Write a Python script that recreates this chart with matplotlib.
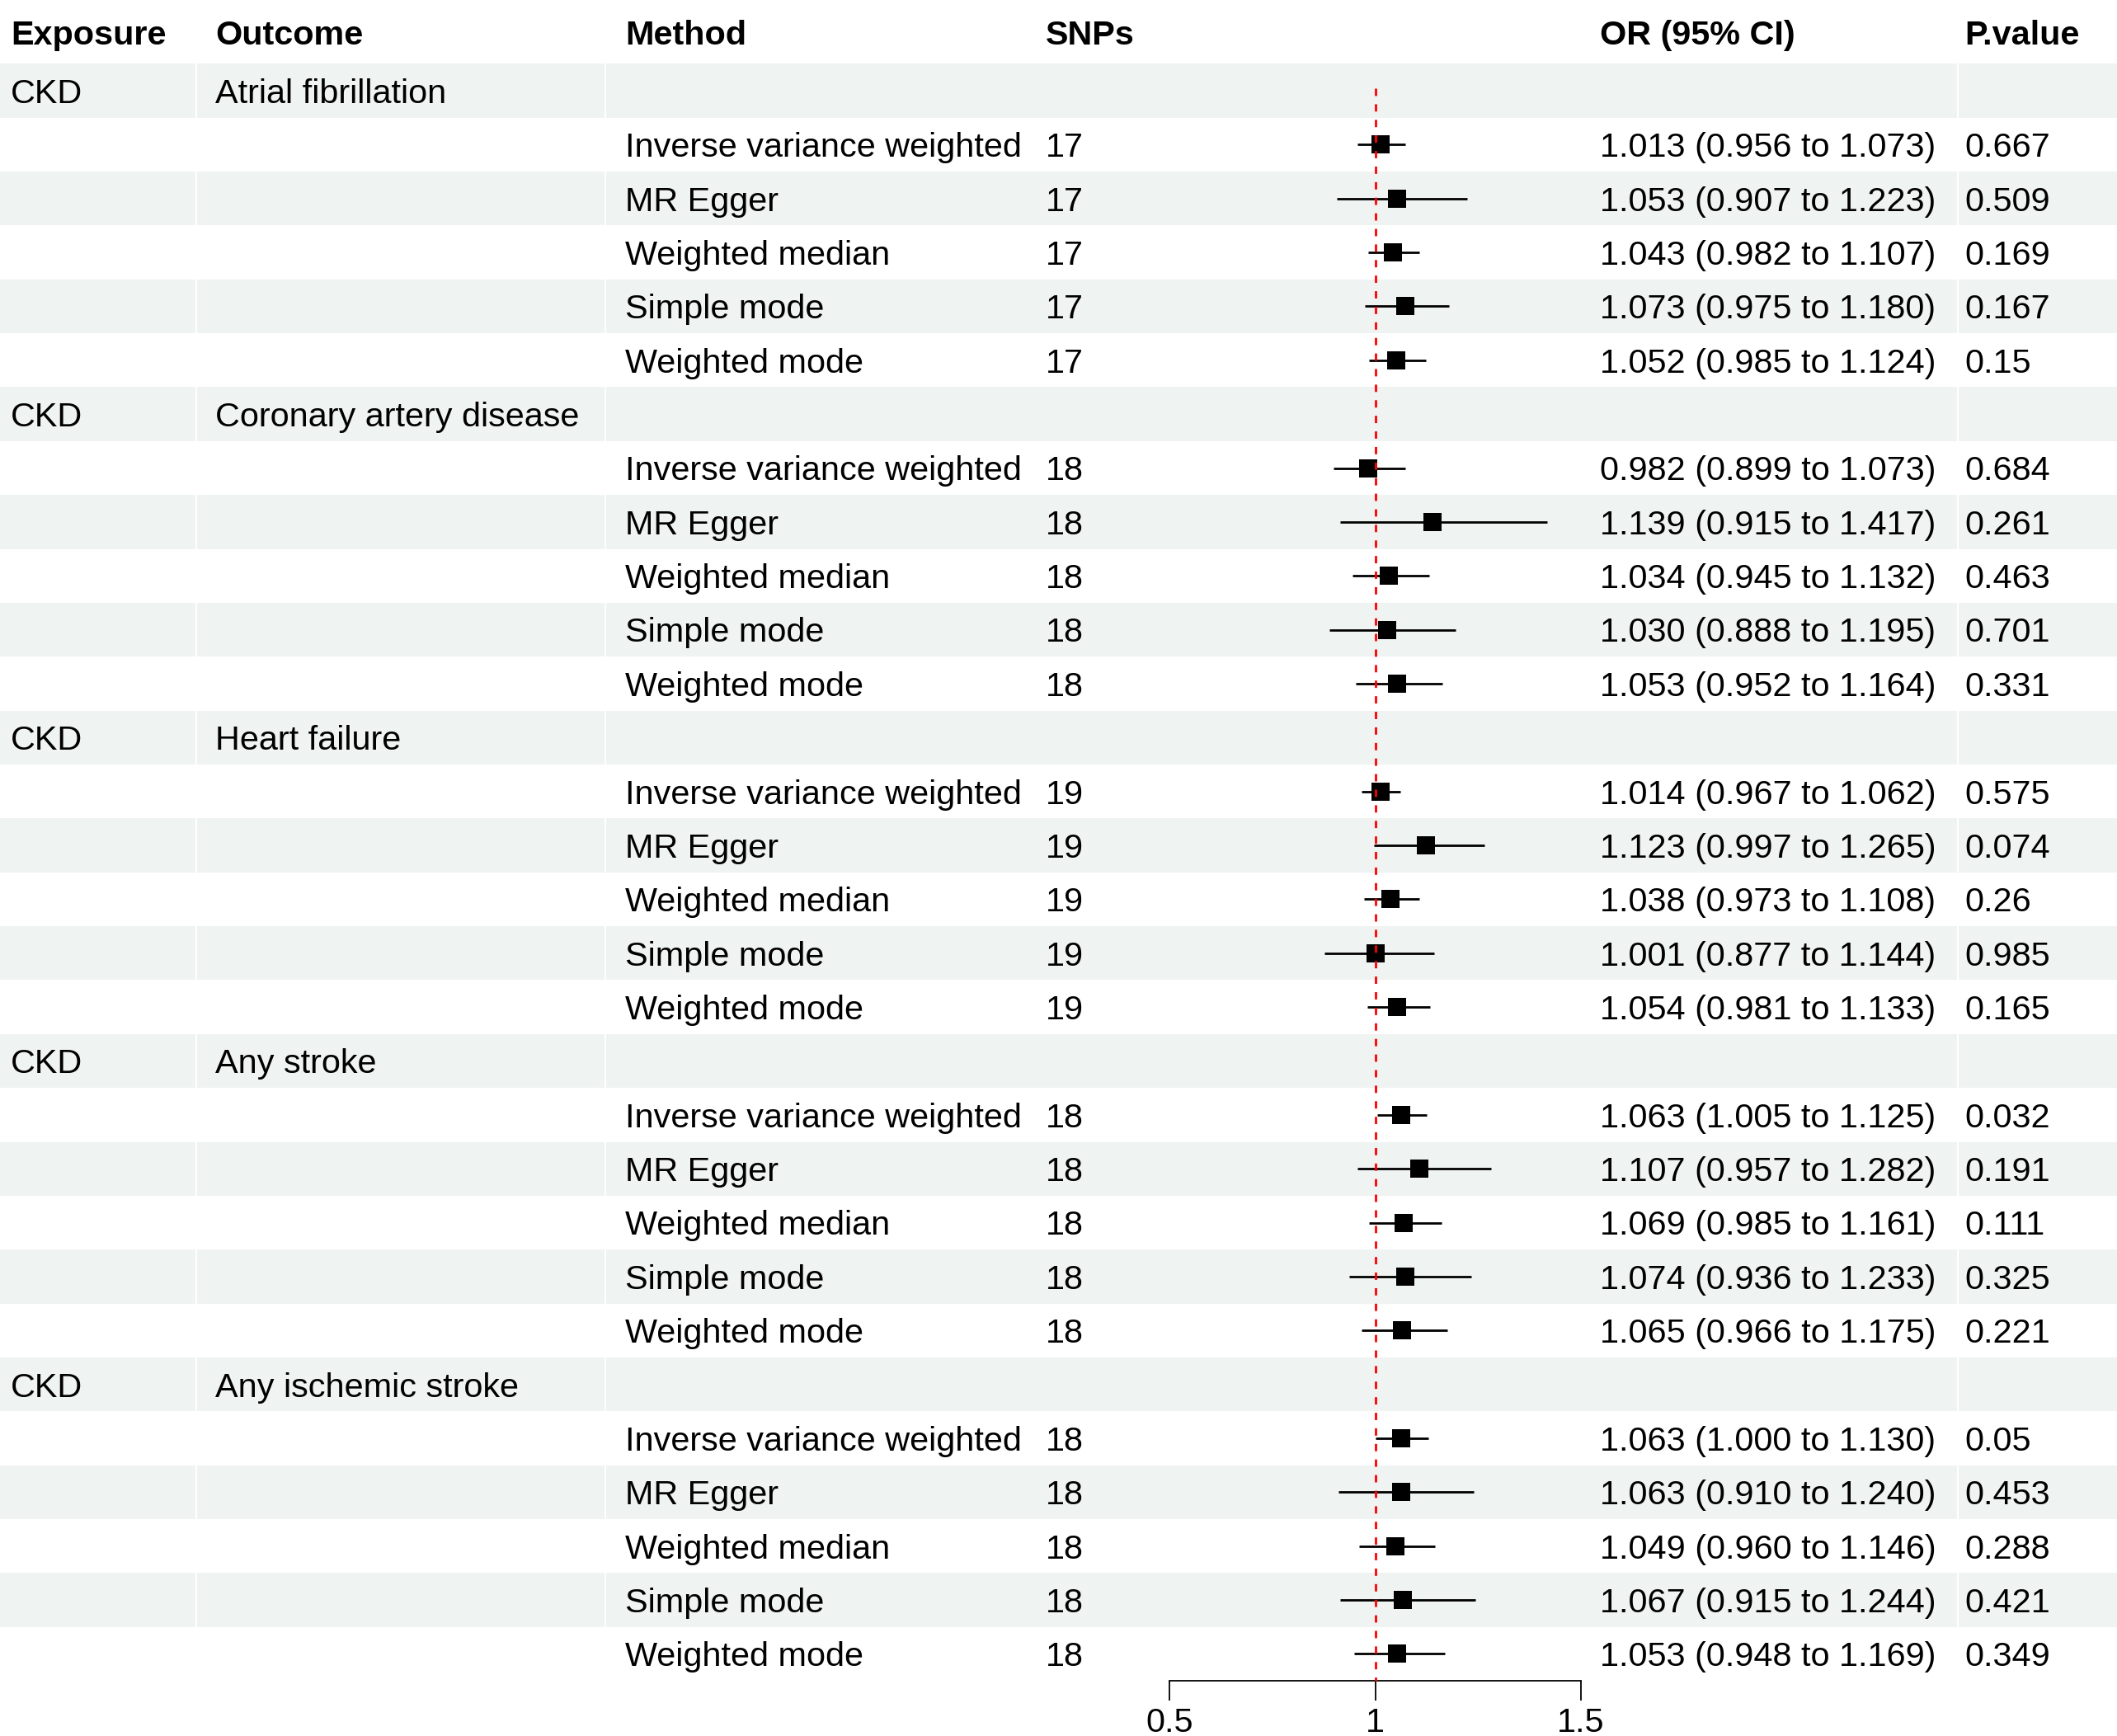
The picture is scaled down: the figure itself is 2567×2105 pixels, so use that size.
import matplotlib
matplotlib.use("Agg")
import matplotlib.pyplot as plt

plt.rcParams['font.family'] = ['Liberation Sans', 'DejaVu Sans']

# data
exposure = "CKD"
outcomes = ["Atrial fibrillation", "Coronary artery disease", "Heart failure",
            "Any stroke", "Any ischemic stroke"]
methods = ["Inverse variance weighted", "MR Egger", "Weighted median",
           "Simple mode", "Weighted mode"]
nsnp = [17, 18, 19, 18, 18]

or_est = [1.013, 1.053, 1.043, 1.073, 1.052,
          0.982, 1.139, 1.034, 1.030, 1.053,
          1.014, 1.123, 1.038, 1.001, 1.054,
          1.063, 1.107, 1.069, 1.074, 1.065,
          1.063, 1.063, 1.049, 1.067, 1.053]
or_lo = [0.956, 0.907, 0.982, 0.975, 0.985,
         0.899, 0.915, 0.945, 0.888, 0.952,
         0.967, 0.997, 0.973, 0.877, 0.981,
         1.005, 0.957, 0.985, 0.936, 0.966,
         1.000, 0.910, 0.960, 0.915, 0.948]
or_hi = [1.073, 1.223, 1.107, 1.180, 1.124,
         1.073, 1.417, 1.132, 1.195, 1.164,
         1.062, 1.265, 1.108, 1.144, 1.133,
         1.125, 1.282, 1.161, 1.233, 1.175,
         1.130, 1.240, 1.146, 1.244, 1.169]
pvals = ["0.667", "0.509", "0.169", "0.167", "0.15",
         "0.684", "0.261", "0.463", "0.701", "0.331",
         "0.575", "0.074", "0.26", "0.985", "0.165",
         "0.032", "0.191", "0.111", "0.325", "0.221",
         "0.05", "0.453", "0.288", "0.421", "0.349"]

headers = ["Exposure", "Outcome", "Method", "SNPs", "OR (95% CI)", "P.value"]
xticks = [0.5, 1, 1.5]
xtick_labels = ["0.5", "1", "1.5"]

# layout (pixels)
W, H = 2567, 2105
row_h = 65.36
top0 = 77.3
nrows = len(outcomes) * (len(methods) + 1)
body_bottom = top0 + nrows * row_h
col_x = [13, 261, 758, 1268, 1940, 2382]
fs = 29.8
base = 14.9 / row_h          # baseline offset below row centre
band_col = "#eff3f2"

fig = plt.figure(figsize=(W / 100, H / 100), dpi=100)

# table layer: x in pixels, y in row units
bg = fig.add_axes([0, 0, 1, 1])
bg.set_xlim(0, W)
bg.set_ylim(nrows - 0.5 + (H - body_bottom) / row_h, -0.5 - top0 / row_h)
bg.axis("off")

for r in range(0, nrows, 2):
    bg.axhspan(r - 0.5, r + 0.5, color=band_col, lw=0, zorder=0)
# faint cell borders between table columns
bg.vlines([238, 734, 2374], -0.5, nrows - 0.5, color="white", lw=1.5, zorder=1)

head_y = -0.5 - (top0 - 39) / row_h + base
for x, h in zip(col_x, headers):
    bg.text(x, head_y, h, fontsize=fs, fontweight="bold", va="baseline", ha="left")

rows = []
k = 0
for g, outc in enumerate(outcomes):
    r0 = g * (len(methods) + 1)
    bg.text(col_x[0], r0 + base, exposure, fontsize=fs, va="baseline")
    bg.text(col_x[1], r0 + base, outc, fontsize=fs, va="baseline")
    for j, m in enumerate(methods):
        r = r0 + 1 + j
        rows.append(r)
        bg.text(col_x[2], r + base, m, fontsize=fs, va="baseline")
        bg.text(col_x[3], r + base, str(nsnp[g]), fontsize=fs, va="baseline")
        txt = "%.3f (%.3f to %.3f)" % (or_est[k], or_lo[k], or_hi[k])
        bg.text(col_x[4], r + base, txt, fontsize=fs, va="baseline")
        bg.text(col_x[5], r + base, pvals[k], fontsize=fs, va="baseline")
        k += 1

# forest panel
x0, x1 = 1418, 1917
fax = fig.add_axes([x0 / W, (H - body_bottom) / H, (x1 - x0) / W, (body_bottom - top0) / H])
fax.set_facecolor("none")
fax.set_xlim(0.5, 1.5)
fax.set_ylim(nrows - 0.5, -0.5)

fax.hlines(rows, or_lo, or_hi, color="black", lw=2.0, zorder=3, clip_on=False)
fax.plot(or_est, rows, "s", color="black", ms=15.5, mew=0, zorder=4, clip_on=False)
fax.plot([1, 1], [-0.05, nrows - 0.5], color="red", lw=2.0, dashes=(3.2, 3.6),
         zorder=5, clip_on=False)

for s in ["top", "left", "right"]:
    fax.spines[s].set_visible(False)
fax.spines["bottom"].set_linewidth(1.3)
fax.spines["bottom"].set_bounds(0.5, 1.5)
fax.set_yticks([])
fax.set_xticks(xticks, xtick_labels)
fax.tick_params(axis="x", direction="out", length=17.3, width=1.3, labelsize=fs, pad=6)

fig.savefig("out.png", dpi=100)
